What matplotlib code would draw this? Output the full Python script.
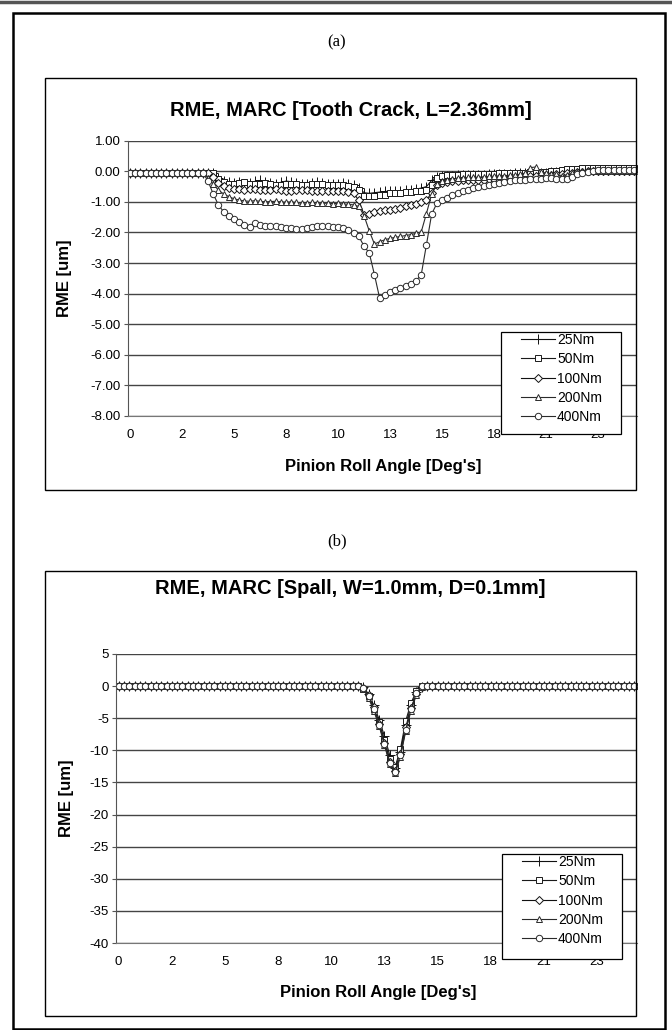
import matplotlib
matplotlib.use('Agg')
import matplotlib.pyplot as plt
from matplotlib.patches import Rectangle
from matplotlib.lines import Line2D

plt.rcParams['font.family'] = ['Liberation Sans', 'DejaVu Sans']

# === DATOS ===
x_tick_labels = ["0", "2", "5", "8", "10", "13", "15", "18", "21", "23"]
load_labels = ["25Nm", "50Nm", "100Nm", "200Nm", "400Nm"]

# (a) tooth crack, RME [um], one value per roll-angle category
crack_25 = [
    -0.05, -0.05, -0.04, -0.05, -0.05, -0.04, -0.05, -0.05, -0.05, -0.04,
    -0.05, -0.05, -0.04, -0.05, -0.05, -0.05, -0.06,
    -0.22, -0.33, -0.36, -0.38,
    -0.35, -0.40, -0.37, -0.33, -0.30, -0.35, -0.38, -0.40, -0.36, -0.32,
    -0.34, -0.38, -0.41, -0.40, -0.37, -0.35, -0.38, -0.40, -0.42, -0.40,
    -0.38, -0.41, -0.45,
    -0.55, -0.70, -0.72, -0.70, -0.68, -0.66, -0.65, -0.64, -0.64, -0.62,
    -0.62, -0.58, -0.55, -0.50, -0.30, -0.18,
    -0.15, -0.14, -0.14, -0.13, -0.13, -0.12, -0.12, -0.12, -0.11, -0.10,
    -0.10, -0.09, -0.08, -0.08, -0.07, -0.06, -0.06, -0.05, -0.05, -0.05,
    -0.04, -0.03, -0.02, -0.02, -0.01, 0.00, 0.02, 0.03, 0.03, 0.03,
    0.03, 0.03, 0.03, 0.03, 0.03, 0.03, 0.03, 0.03,
]
crack_50 = [
    -0.05, -0.06, -0.05, -0.05, -0.06, -0.05, -0.05, -0.06, -0.05, -0.05,
    -0.05, -0.06, -0.05, -0.05, -0.06, -0.05, -0.06,
    -0.25, -0.35,
    -0.40, -0.42, -0.38, -0.36, -0.40, -0.43, -0.42, -0.38, -0.40, -0.44,
    -0.45, -0.42, -0.40, -0.42, -0.44, -0.45, -0.43, -0.41, -0.43, -0.45,
    -0.46, -0.44, -0.45, -0.48, -0.50,
    -0.62, -0.80, -0.82, -0.80, -0.78, -0.76, -0.72, -0.70, -0.70, -0.69,
    -0.68, -0.66, -0.63, -0.60, -0.45, -0.22,
    -0.15, -0.12, -0.12, -0.11, -0.10, -0.10, -0.10, -0.09, -0.09, -0.08,
    -0.08, -0.07, -0.07, -0.06, -0.05, -0.05, -0.04, -0.03, -0.02, -0.02,
    -0.01, 0.00, 0.02, 0.04, 0.06, 0.08, 0.09, 0.10, 0.10, 0.10,
    0.10, 0.10, 0.10, 0.10, 0.10, 0.10, 0.10, 0.10,
]
crack_100 = [
    -0.05, -0.05, -0.05, -0.05, -0.05, -0.05, -0.05, -0.05, -0.05, -0.05,
    -0.05, -0.05, -0.05, -0.05, -0.05, -0.05,
    -0.20, -0.38, -0.48, -0.54, -0.57,
    -0.58, -0.60, -0.58, -0.57, -0.60, -0.62, -0.60, -0.58, -0.60, -0.63,
    -0.64, -0.62, -0.60, -0.62, -0.64, -0.65, -0.63, -0.64, -0.66, -0.65,
    -0.66, -0.68, -0.72,
    -0.95, -1.42, -1.38, -1.34, -1.31, -1.28, -1.25, -1.22, -1.19, -1.15,
    -1.11, -1.07, -1.02, -0.95, -0.70, -0.45,
    -0.38, -0.35, -0.33, -0.32, -0.30, -0.30, -0.29, -0.28, -0.27, -0.26,
    -0.25, -0.24, -0.24, -0.23, -0.22, -0.20, -0.18, -0.16, -0.15, -0.14,
    -0.13, -0.12, -0.10, -0.08, -0.06, -0.04, -0.02, -0.01, 0.00, 0.00,
    0.00, 0.00, 0.00, 0.00, 0.00, 0.00, 0.00, 0.00,
]
crack_200 = [
    -0.05, -0.05, -0.05, -0.05, -0.05, -0.05, -0.05, -0.05, -0.05, -0.05,
    -0.05, -0.05, -0.05, -0.05, -0.05,
    -0.22, -0.42, -0.62, -0.74, -0.83, -0.90, -0.94,
    -0.97, -0.98, -0.96, -0.98, -1.00, -0.99, -0.98, -1.00, -1.01, -1.00,
    -1.02, -1.05, -1.03, -1.02, -1.04, -1.05, -1.04, -1.06, -1.05, -1.07,
    -1.08, -1.10,
    -1.15, -1.45, -1.95, -2.38, -2.30, -2.24, -2.19, -2.16, -2.13, -2.10,
    -2.07, -2.03, -1.98, -1.38, -0.75, -0.42,
    -0.32, -0.28, -0.25, -0.22, -0.22, -0.20, -0.20, -0.19, -0.18, -0.17,
    -0.16, -0.15, -0.14, -0.13, -0.12, -0.10, -0.06, 0.12, 0.14, -0.02,
    -0.06, -0.08, -0.10, -0.14, -0.12, -0.06, -0.02, 0.00, 0.00, 0.00,
    0.00, 0.00, 0.00, 0.00, 0.00, 0.00, 0.00, 0.00,
]
crack_400 = [
    -0.05, -0.05, -0.05, -0.05, -0.05, -0.05, -0.05, -0.05, -0.05, -0.05,
    -0.05, -0.05, -0.05, -0.05, -0.05,
    -0.32, -0.75, -1.10, -1.33, -1.47, -1.56, -1.67, -1.76, -1.81, -1.70,
    -1.76, -1.78, -1.80, -1.80, -1.82, -1.84, -1.85, -1.88, -1.90, -1.84,
    -1.81, -1.80, -1.80, -1.80, -1.81, -1.82, -1.86, -1.92, -2.02, -2.13,
    -2.45, -2.67, -3.38, -4.15, -4.03, -3.95, -3.88, -3.82, -3.76, -3.70,
    -3.58, -3.38, -2.40, -1.40, -1.05,
    -0.93, -0.86, -0.79, -0.72, -0.66, -0.60, -0.55, -0.50, -0.47, -0.44,
    -0.41, -0.38, -0.35, -0.32, -0.30, -0.28, -0.27, -0.26, -0.25, -0.24,
    -0.23, -0.22, -0.24, -0.26, -0.24, -0.18, -0.10, -0.05, -0.02, 0.00,
    0.03, 0.03, 0.03, 0.03, 0.03, 0.03, 0.03, 0.03,
]

# (b) spall, RME [um]
spall_25 = [
    0, 0, 0, 0, 0, 0, 0, 0, 0, 0,
    0, 0, 0, 0, 0, 0, 0, 0, 0, 0,
    0, 0, 0, 0, 0, 0, 0, 0, 0, 0,
    0, 0, 0, 0, 0, 0, 0, 0, 0, 0,
    0, 0, 0, 0, 0, 0, -0.2, -1.2, -3.0, -5.2,
    -7.8, -10.8, -12.8, -10.2, -6.0, -3.0, -0.9, -0.1, 0, 0,
    0, 0, 0, 0, 0, 0, 0, 0, 0, 0,
    0, 0, 0, 0, 0, 0, 0, 0, 0, 0,
    0, 0, 0, 0, 0, 0, 0, 0, 0, 0,
    0, 0, 0, 0, 0, 0, 0, 0,
]
spall_50 = [
    0, 0, 0, 0, 0, 0, 0, 0, 0, 0,
    0, 0, 0, 0, 0, 0, 0, 0, 0, 0,
    0, 0, 0, 0, 0, 0, 0, 0, 0, 0,
    0, 0, 0, 0, 0, 0, 0, 0, 0, 0,
    0, 0, 0, 0, 0, 0, -0.4, -1.6, -3.6, -5.6,
    -8.4, -11.4, -12.6, -9.8, -5.4, -2.6, -0.8, 0, 0, 0,
    0, 0, 0, 0, 0, 0, 0, 0, 0, 0,
    0, 0, 0, 0, 0, 0, 0, 0, 0, 0,
    0, 0, 0, 0, 0, 0, 0, 0, 0, 0,
    0, 0, 0, 0, 0, 0, 0, 0,
]
spall_100 = [
    0, 0, 0, 0, 0, 0, 0, 0, 0, 0,
    0, 0, 0, 0, 0, 0, 0, 0, 0, 0,
    0, 0, 0, 0, 0, 0, 0, 0, 0, 0,
    0, 0, 0, 0, 0, 0, 0, 0, 0, 0,
    0, 0, 0, 0, 0, 0, -0.3, -1.4, -3.3, -5.9,
    -8.8, -11.8, -13.2, -10.6, -6.4, -3.4, -1.2, -0.1, 0, 0,
    0, 0, 0, 0, 0, 0, 0, 0, 0, 0,
    0, 0, 0, 0, 0, 0, 0, 0, 0, 0,
    0, 0, 0, 0, 0, 0, 0, 0, 0, 0,
    0, 0, 0, 0, 0, 0, 0, 0,
]
spall_200 = [
    0, 0, 0, 0, 0, 0, 0, 0, 0, 0,
    0, 0, 0, 0, 0, 0, 0, 0, 0, 0,
    0, 0, 0, 0, 0, 0, 0, 0, 0, 0,
    0, 0, 0, 0, 0, 0, 0, 0, 0, 0,
    0, 0, 0, 0, 0, 0, -0.5, -1.8, -3.9, -6.2,
    -9.2, -12.2, -13.6, -11.0, -7.0, -3.8, -1.4, -0.2, 0, 0,
    0, 0, 0, 0, 0, 0, 0, 0, 0, 0,
    0, 0, 0, 0, 0, 0, 0, 0, 0, 0,
    0, 0, 0, 0, 0, 0, 0, 0, 0, 0,
    0, 0, 0, 0, 0, 0, 0, 0,
]
spall_400 = [
    0, 0, 0, 0, 0, 0, 0, 0, 0, 0,
    0, 0, 0, 0, 0, 0, 0, 0, 0, 0,
    0, 0, 0, 0, 0, 0, 0, 0, 0, 0,
    0, 0, 0, 0, 0, 0, 0, 0, 0, 0,
    0, 0, 0, 0, 0, 0, -0.3, -1.5, -3.5, -6.0,
    -9.0, -12.0, -13.4, -10.8, -6.8, -3.6, -1.1, 0, 0, 0,
    0, 0, 0, 0, 0, 0, 0, 0, 0, 0,
    0, 0, 0, 0, 0, 0, 0, 0, 0, 0,
    0, 0, 0, 0, 0, 0, 0, 0, 0, 0,
    0, 0, 0, 0, 0, 0, 0, 0,
]

crack_ticks = [1, 0, -1, -2, -3, -4, -5, -6, -7, -8]
crack_tick_labels = ["1.00", "0.00", "-1.00", "-2.00", "-3.00",
                     "-4.00", "-5.00", "-6.00", "-7.00", "-8.00"]
spall_ticks = [5, 0, -5, -10, -15, -20, -25, -30, -35, -40]
spall_tick_labels = ["5", "0", "-5", "-10", "-15", "-20", "-25", "-30", "-35", "-40"]

# === ESTILO ===
W, H = 672, 1030
markers = ['+', 's', 'D', '^', 'o']
msizes = [6.5, 4.5, 4.3, 5.0, 4.6]
line_col = ['#111111', '#1a1a1a', '#111111', '#2a2a2a', '#2a2a2a']


def px_rect(l, t, r, b):
    return [l / W, 1 - b / H, (r - l) / W, (b - t) / H]


def box(l, t, r, b, lw=1.0):
    fig.add_artist(Rectangle((l / W, 1 - b / H), (r - l) / W, (b - t) / H,
                             transform=fig.transFigure, fill=False,
                             ec='black', lw=lw))


def chart(series, plot_px, ylim, yticks, ylabels, legend_px):
    ax = fig.add_axes(px_rect(*plot_px))
    for vals, m, ms, c, lab in zip(series, markers, msizes, line_col, load_labels):
        ax.plot(range(len(vals)), vals, color=c, lw=0.8, marker=m, ms=ms,
                mfc='white', mec=c, mew=0.7, label=lab)
    ax.set_xlim(-0.5, 97.5)
    ax.set_ylim(*ylim)
    ax.set_yticks(yticks)
    ax.set_yticklabels(ylabels)
    ax.set_xticks(range(0, 100, 10))
    ax.set_xticklabels(x_tick_labels)
    ax.yaxis.grid(True, color='#444444', lw=1.0)
    ax.set_axisbelow(True)
    for s in ['top', 'right']:
        ax.spines[s].set_visible(False)
    ax.spines['left'].set_color('#555555')
    ax.spines['bottom'].set_color('#777777')
    ax.tick_params(axis='y', length=3, width=0.8, color='#555555', pad=2, labelsize=9.5)
    ax.tick_params(axis='x', length=0, pad=9.5, labelsize=9.5)

    # legend: white box drawn over the tick labels, entries inside
    l, t, r, b = legend_px
    ax.add_patch(Rectangle((l / W, 1 - b / H), (r - l) / W, (b - t) / H,
                           transform=fig.transFigure, fc='white', ec='black',
                           lw=0.9, zorder=9, clip_on=False))
    leg = ax.legend(loc='upper left', bbox_to_anchor=((l + 20) / W, 1 - (t + 1) / H),
                    bbox_transform=fig.transFigure, frameon=False,
                    fontsize=10, handlelength=2.45, handletextpad=0.15,
                    labelspacing=0.38, borderpad=0, borderaxespad=0)
    leg.set_zorder(10)
    return ax


fig = plt.figure(figsize=(W / 100, H / 100), dpi=100)

# marco exterior
fig.add_artist(Line2D([0, 1], [1 - 1.5 / H] * 2, transform=fig.transFigure,
                      color='#555555', lw=2.5))
box(13, 13, 665, 1029, lw=1.8)

# === (a) ===
fig.text(337 / W, 1 - 42 / H, "(a)", ha='center', va='center',
         fontsize=12, family='Liberation Serif')
box(45, 78, 636, 490)
fig.text(351 / W, 1 - 111 / H, "RME, MARC [Tooth Crack, L=2.36mm]",
         ha='center', va='center', fontsize=14.5, fontweight='bold')
chart([crack_25, crack_50, crack_100, crack_200, crack_400],
      (127.5, 140.7, 637, 416), (-8, 1), crack_ticks, crack_tick_labels,
      (501, 332, 621, 434))
fig.text(65 / W, 1 - 278 / H, "RME [um]", rotation=90, ha='center', va='center',
         fontsize=12, fontweight='bold')
fig.text(383 / W, 1 - 466 / H, "Pinion Roll Angle [Deg's]", ha='center',
         va='center', fontsize=12, fontweight='bold')

# === (b) ===
fig.text(337 / W, 1 - 541 / H, "(b)", ha='center', va='center',
         fontsize=12, family='Liberation Serif')
box(45, 571, 636, 1016)
fig.text(350 / W, 1 - 589 / H, "RME, MARC [Spall, W=1.0mm, D=0.1mm]",
         ha='center', va='center', fontsize=14.5, fontweight='bold')
chart([spall_25, spall_50, spall_100, spall_200, spall_400],
      (116, 654, 637, 943), (-40, 5), spall_ticks, spall_tick_labels,
      (502, 854, 622, 959))
fig.text(66 / W, 1 - 798 / H, "RME [um]", rotation=90, ha='center', va='center',
         fontsize=12, fontweight='bold')
fig.text(378 / W, 1 - 992 / H, "Pinion Roll Angle [Deg's]", ha='center',
         va='center', fontsize=12, fontweight='bold')

plt.savefig('out.png', dpi=100)
